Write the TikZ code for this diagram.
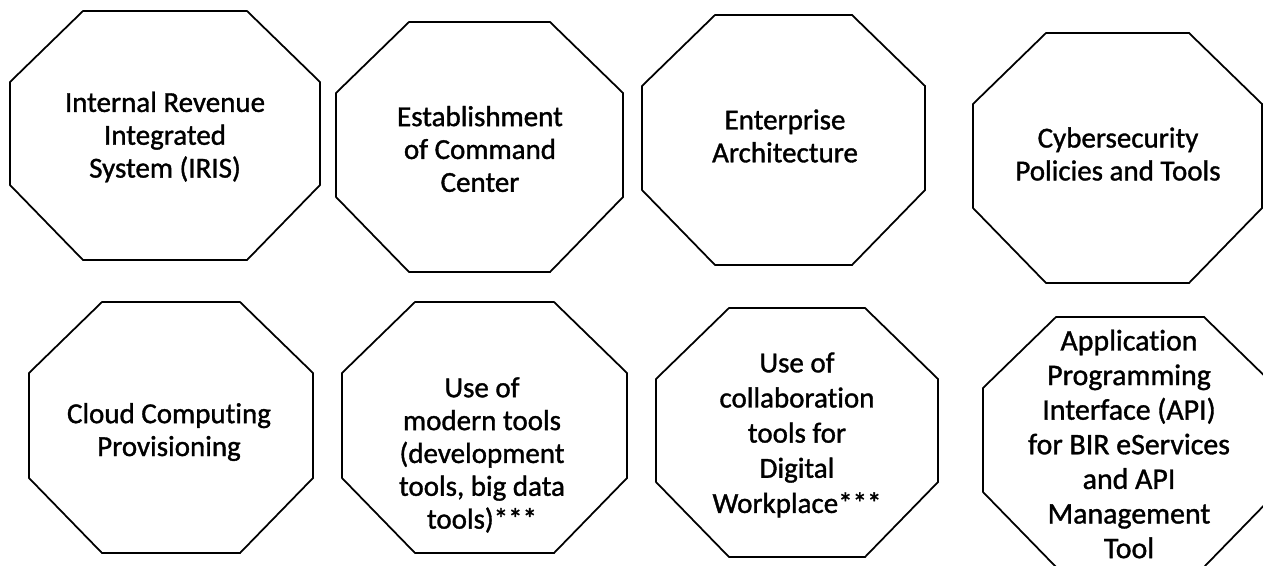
\documentclass[tikz,border=0pt]{standalone}
\usepackage{fontspec}
\setmainfont{Carlito}[Ligatures = NoCommon, BoldFont = Carlito, BoldFeatures = {FakeBold = 1.2}]
\begin{document}
\begin{tikzpicture}[x = 0.02cm, y = -0.02cm,
        octa/.style = {line width = 1pt},
        txt/.style = {align = center, inner sep = 0pt, font = \fontsize{16.5}{18.7}\selectfont\bfseries}]
        \clip (0,0) rectangle (1263,565);
        % octagons given by left/right/top/bottom
        \foreach \xl/\xr/\yt/\yb in {10/320/11/260, 336/623/22/272, 642/925/15/265, 973/1262/33/283,
                                     29/313/302/553, 342/627/302/553, 656/938/308/557, 983/1277/317/567}
            \draw[octa] (\xl,\yt+71) -- (\xl+73,\yt) -- (\xr-73,\yt) -- (\xr,\yt+71)
                -- (\xr,\yb-75) -- (\xr-73,\yb) -- (\xl+73,\yb) -- (\xl,\yb-75) -- cycle;
        \begin{scope}[every node/.append style = {txt}]
            \node (iris) at (165,137) {Internal Revenue\\Integrated\\System (IRIS)};
            \node (command) at (480,149) {Establishment\\of Command\\Center};
            \node (entarch) at (785,136) {Enterprise\\Architecture};
            \node (cyber) at (1118,154) {Cybersecurity\\Policies and Tools};
            \node (cloud) at (169,432) {Cloud Computing\\Provisioning};
            \node (modern) at (482,455) {Use of\\modern tools\\(development\\tools, big data\\tools)***};
            \node[font = \fontsize{16.5}{20}\selectfont\bfseries] (collab) at (797,435) {Use of\\collaboration\\tools for\\Digital\\Workplace***};
            \node[font = \fontsize{17}{19.7}\selectfont\bfseries] (api) at (1129,444) {Application\\Programming\\Interface (API)\\for BIR eServices\\and API\\Management\\Tool};
        \end{scope}
\end{tikzpicture}
\end{document}
